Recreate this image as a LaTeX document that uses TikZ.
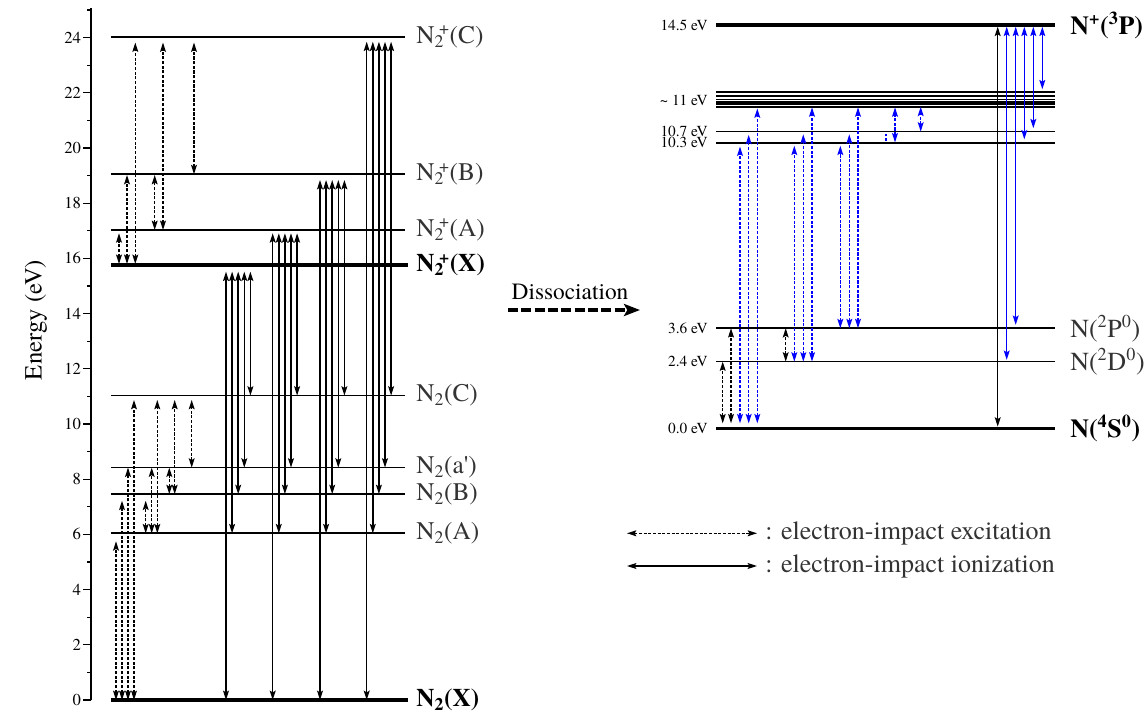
\documentclass[tikz,border=0pt]{standalone}
\usepackage{fontspec}
\setmainfont{texgyretermes}[
    Extension=.otf,
    UprightFont=*-regular,
    BoldFont=*-bold,
    ItalicFont=*-italic,
    BoldItalicFont=*-bolditalic]
\usetikzlibrary{arrows.meta}

\newcommand{\Ntwo}{N\textsubscript{2}}
\newcommand{\Ntwop}{N\textsubscript{2}\kern-0.2em\textsuperscript{+}}

\begin{document}
\begin{tikzpicture}[
    x=0.75pt,
    y=20.7pt,
    >={Stealth[length=7pt,width=4.4pt,inset=1.3pt]},
    level/.style={line width=1.3pt},
    ground/.style={line width=2.6pt},
    excite/.style={<->,line width=0.95pt,dash pattern=on 2.4pt off 1.1pt},
    ionize/.style={<->,line width=1.1pt},
    statelabel/.style={anchor=west,inner sep=0pt,text=black!80,
        font=\fontsize{19}{21}\selectfont},
    boldlabel/.style={anchor=west,inner sep=0pt,
        font=\fontsize{19}{21}\selectfont\bfseries},
    atomlabel/.style={anchor=west,inner sep=0pt,text=black!80,
        font=\fontsize{19.5}{22}\selectfont},
    boldatom/.style={anchor=west,inner sep=0pt,
        font=\fontsize{19.5}{22}\selectfont\bfseries},
    evlabel/.style={anchor=east,inner sep=0pt,
        font=\fontsize{11.5}{13}\selectfont},
    ticklabel/.style={anchor=east,inner sep=1pt,
        font=\fontsize{12.5}{14}\selectfont}
]

\useasboundingbox (0,-0.471) rectangle (1145,25.362);

% ---------------------------------------------------------
% Energy axis
% ---------------------------------------------------------

\draw[line width=1.4pt]
    (91,0) -- (91,25.07);

\foreach \e in {0,...,25}
    \draw[line width=1pt] (91,\e) -- ++(-4,0);

\foreach \e in {0,2,...,24}
    \draw[line width=1pt] (91,\e) -- ++(-8,0)
    node[ticklabel] (tick\e) {\e};

\node[rotate=90,font=\fontsize{18.5}{20}\selectfont] (ylabel)
    at (36,13.77) {Energy (eV)};

% ---------------------------------------------------------
% N2 and N2+ levels
% ---------------------------------------------------------

\draw[ground] (111,0) -- (408,0);
\node[boldlabel] (labX) at (416,0) {\Ntwo(X)};

\draw[ground] (111,15.76) -- (408,15.76);
\node[boldlabel] (labpX) at (416,15.76) {\Ntwop(X)};

\foreach \e/\name/\txt in {
    6.04/A/{\Ntwo(A)},
    7.46/B/{\Ntwo(B)},
    8.42/ap/{\Ntwo(a\textquotesingle)},
    11.03/C/{\Ntwo(C)},
    17.03/pA/{\Ntwop(A)},
    19.05/pB/{\Ntwop(B)},
    24.03/pC/{\Ntwop(C)}}
{
    \draw[level] (111,\e) -- (405,\e);
    \node[statelabel] (lab\name) at (416,\e) {\txt};
}

% ---------------------------------------------------------
% Excitation (dashed) between N2 / N2+ levels
% ---------------------------------------------------------

\foreach \x/\lo/\hi in {
    116/0/5.75, 122/0/7.22, 128/0/8.42, 134/0/10.87,
    145.7/6.04/7.22, 151.7/6.04/8.42, 157.3/6.04/10.87,
    169.3/7.46/8.42, 174.7/7.46/10.87,
    191.7/8.42/10.87,
    119/15.8/16.91, 127/15.8/19.02, 135.3/15.8/23.82,
    154.7/17.03/19.02, 163/17.03/23.82,
    194/19.05/23.82}
    \draw[excite] (\x,\lo) -- (\x,\hi);

% ---------------------------------------------------------
% Ionization (solid) N2 -> N2+
% ---------------------------------------------------------

\foreach \gx/\ey in {226/15.52, 272.7/16.91, 320/18.84, 366.7/23.85}
    \foreach \lo [count=\i from 0] in {0,6.04,7.46,8.42,11.03}
        \draw[ionize] (\gx+6.1*\i,\lo) -- (\gx+6.1*\i,\ey);

% ---------------------------------------------------------
% Dissociation
% ---------------------------------------------------------

\coordinate (dissA) at (508,14.13);
\coordinate (dissB) at (640,14.13);

\draw[line width=2.4pt,dash pattern=on 7.5pt off 2.5pt,
      -{Stealth[length=12pt,width=9pt,inset=2.5pt]}]
    (dissA) -- (dissB);

\node[font=\fontsize{17.5}{20}\selectfont] (disslab)
    at (570,14.78) {Dissociation};

% ---------------------------------------------------------
% N and N+ levels
% ---------------------------------------------------------

\begin{scope}[shift={(0,9.844)},yscale=1.0076]

    \draw[ground] (716,14.5) -- (1055,14.5);
    \draw[ground] (716,0) -- (1055,0);

    \foreach \e in {2.4,3.6,10.27,10.67,11.56,11.65,11.73,11.82,11.96,12.09}
        \draw[level] (716,\e) -- (1055,\e);

    \node[evlabel] (ev145) at (708,14.5) {14.5 eV};
    \node[evlabel] (ev11) at (708,11.8) {\textasciitilde\ 11 eV};
    \node[evlabel] (ev107) at (708,10.67) {10.7 eV};
    \node[evlabel] (ev103) at (708,10.27) {10.3 eV};
    \node[evlabel] (ev36) at (708,3.6) {3.6 eV};
    \node[evlabel] (ev24) at (708,2.4) {2.4 eV};
    \node[evlabel] (ev00) at (708,0) {0.0 eV};

    \node[boldatom] (labNp) at (1070,14.5)
        {N\textsuperscript{+}(\textsuperscript{3}P)};
    \node[atomlabel] (labP) at (1070,3.6)
        {N(\textsuperscript{2}P\textsuperscript{0})};
    \node[atomlabel] (labD) at (1070,2.4)
        {N(\textsuperscript{2}D\textsuperscript{0})};
    \node[boldatom] (labS) at (1070,0)
        {N(\textsuperscript{4}S\textsuperscript{0})};

    % excitation among N levels
    \draw[excite] (722.7,0.18) -- (722.7,2.4);
    \draw[excite] (731,0.18) -- (731,3.6);
    \draw[excite] (785.7,2.4) -- (785.7,3.6);

    \foreach \x/\lo/\hi in {
        740/0.18/10.13, 748.7/0.18/10.55, 757.3/0.18/11.5,
        794.3/2.4/10.16, 803.3/2.4/10.57, 812/2.4/11.54,
        840.3/3.6/10.16, 849.3/3.6/10.57, 858/3.6/11.54,
        895/10.28/11.54, 920.7/10.67/11.56}
        \draw[excite,blue] (\x,\lo) -- (\x,\hi);

    \draw[blue,line width=0.9pt,dash pattern=on 2pt off 1.5pt]
        (886,10.33) -- (886,10.6);

    % ionization to N+
    \draw[ionize] (997.7,0.06) -- (997.7,14.44);

    \foreach \x/\lo in {1006.7/2.46, 1015.7/3.72, 1024.3/10.39,
                        1033.3/10.79, 1042.3/12.19}
        \draw[ionize,blue] (\x,\lo) -- (\x,14.44);

\end{scope}

% ---------------------------------------------------------
% Legend
% ---------------------------------------------------------

\coordinate (legA) at (627,6.04);
\coordinate (legB) at (757,6.04);
\coordinate (legC) at (627,4.855);
\coordinate (legD) at (757,4.855);

\draw[excite] (legA) -- (legB);
\draw[ionize] (legC) -- (legD);

\node[atomlabel] (legexc) at (765,6.04)
    {: electron-impact excitation};
\node[atomlabel] (legion) at (765,4.855)
    {: electron-impact ionization};

\end{tikzpicture}
\end{document}
